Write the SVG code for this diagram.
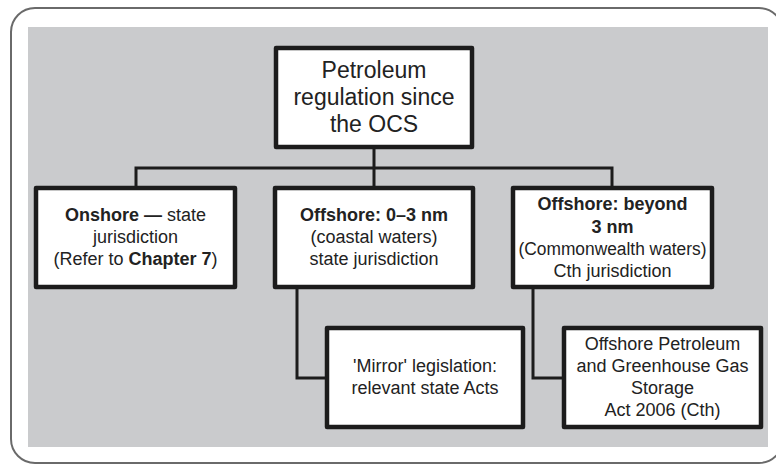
<svg xmlns="http://www.w3.org/2000/svg" width="776" height="464" viewBox="0 0 776 464">
<style>
.box{fill:#ffffff;stroke:#1c1c1c;stroke-width:4.5;stroke-linejoin:round}
.conn{fill:none;stroke:#1c1c1c;stroke-width:3}
text{font-family:"Liberation Sans",Arial,sans-serif;font-size:18px;fill:#222;text-anchor:middle}
.b{font-weight:bold}
.root{font-size:23px}
</style>
<rect x="0" y="0" width="776" height="464" fill="#ffffff"/>
<rect x="11" y="8" width="772" height="455" rx="24" ry="24" fill="#ffffff" stroke="#6a6a6a" stroke-width="2"/>
<rect x="28" y="27" width="740" height="420" fill="#cacbcd"/>
<g id="connectors">
<path class="conn" d="M374 147 V188 M136 188 V168 H612 V188"/>
<path class="conn" d="M297 287 V378 H327"/>
<path class="conn" d="M533 287 V378 H564"/>
</g>
<g id="root">
<rect class="box" x="276" y="48" width="196" height="99"/>
<text class="root" x="374" y="78">Petroleum</text>
<text class="root" x="374" y="105">regulation since</text>
<text class="root" x="374" y="132">the OCS</text>
</g>
<g id="onshore">
<rect class="box" x="36" y="188" width="199" height="99"/>
<text x="135.5" y="221"><tspan class="b">Onshore —</tspan> state</text>
<text x="135.5" y="243">jurisdiction</text>
<text x="135.5" y="265">(Refer to <tspan class="b">Chapter 7</tspan>)</text>
</g>
<g id="offshore-0-3">
<rect class="box" x="275" y="188" width="198" height="99"/>
<text class="b" x="374" y="221">Offshore: 0–3 nm</text>
<text x="374" y="243">(coastal waters)</text>
<text x="374" y="265">state jurisdiction</text>
</g>
<g id="offshore-beyond">
<rect class="box" x="513" y="188" width="199" height="99"/>
<text class="b" x="612.5" y="210">Offshore: beyond</text>
<text class="b" x="612.5" y="233">3 nm</text>
<text x="612.5" y="255" textLength="188" lengthAdjust="spacingAndGlyphs">(Commonwealth waters)</text>
<text x="612.5" y="277">Cth jurisdiction</text>
</g>
<g id="mirror">
<rect class="box" x="327" y="328" width="196" height="99"/>
<text x="425" y="372">'Mirror' legislation:</text>
<text x="425" y="394">relevant state Acts</text>
</g>
<g id="opggs-act">
<rect class="box" x="564" y="328" width="197" height="99"/>
<text x="662.5" y="350">Offshore Petroleum</text>
<text x="662.5" y="372">and Greenhouse Gas</text>
<text x="662.5" y="394">Storage</text>
<text x="662.5" y="416">Act 2006 (Cth)</text>
</g>
</svg>
